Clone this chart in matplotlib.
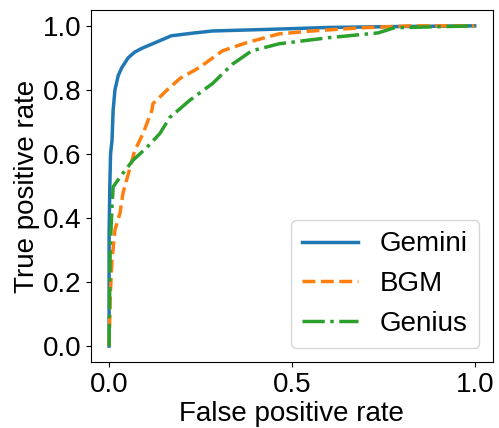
import matplotlib
matplotlib.use("Agg")
import matplotlib.pyplot as plt
import numpy as np

plt.rcParams['font.family'] = ['Liberation Sans', 'DejaVu Sans']
plt.rcParams['font.size'] = 20

# ROC curves
gemini_fpr = [0.0, 0.0, 0.002, 0.004, 0.008, 0.011, 0.016, 0.025, 0.035, 0.052, 0.07,
              0.09, 0.125, 0.17, 0.234, 0.283, 0.465, 0.6, 0.8, 1.0]
gemini_tpr = [0.0, 0.35, 0.5, 0.6, 0.643, 0.736, 0.80, 0.845, 0.87, 0.90, 0.918,
              0.93, 0.947, 0.969, 0.978, 0.984, 0.99, 0.995, 0.998, 1.0]

bgm_fpr = [0.0, 0.003, 0.008, 0.016, 0.03, 0.038, 0.07, 0.093, 0.117, 0.12, 0.157,
           0.193, 0.247, 0.31, 0.375, 0.465, 0.555, 0.69, 0.826, 1.0]
bgm_tpr = [0.0, 0.155, 0.27, 0.363, 0.416, 0.478, 0.61, 0.664, 0.736, 0.757, 0.798,
           0.835, 0.87, 0.922, 0.947, 0.975, 0.984, 0.994, 1.0, 1.0]

genius_fpr = [0.0, 0.003, 0.008, 0.011, 0.03, 0.065, 0.103, 0.139, 0.166, 0.22, 0.283,
              0.337, 0.39, 0.465, 0.6, 0.736, 0.78, 1.0]
genius_tpr = [0.0, 0.31, 0.435, 0.497, 0.528, 0.58, 0.62, 0.664, 0.714, 0.767, 0.82,
              0.88, 0.922, 0.944, 0.963, 0.978, 0.994, 1.0]

fig = plt.figure(figsize=(4.99, 4.28), dpi=100)
ax = fig.add_axes([0.182, 0.154, 0.806, 0.823])

ax.plot(gemini_fpr, gemini_tpr, '-', color='#1f77b4', linewidth=2.5, label='Gemini')
ax.plot(bgm_fpr, bgm_tpr, '--', color='#ff7f0e', linewidth=2.5, label='BGM')
ax.plot(genius_fpr, genius_tpr, '-.', color='#2ca02c', linewidth=2.5, label='Genius')

ax.set_xticks([0.0, 0.5, 1.0])
ax.set_yticks([0.0, 0.2, 0.4, 0.6, 0.8, 1.0])
ax.set_xlabel('False positive rate', labelpad=2)
ax.set_ylabel('True positive rate', labelpad=2)
ax.legend(loc='lower right')

fig.savefig('out.png', dpi=100)
